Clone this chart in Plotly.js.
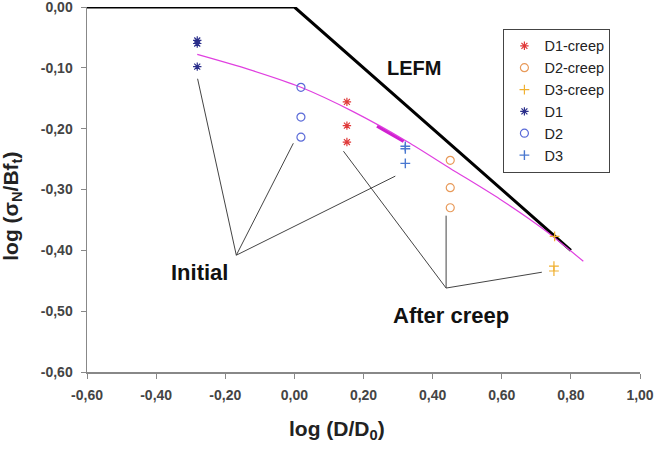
<!DOCTYPE html>
<html>
<head>
<meta charset="utf-8">
<script src="https://cdn.plot.ly/plotly-3.0.1.min.js"></script>
<style>html,body{margin:0;padding:0;background:#fff;}#chart{width:669px;height:449px;}</style>
</head>
<body>
<div id="chart"></div>
<script>
// ---- data ----
const d1creepX = [0.152, 0.152, 0.152];
const d1creepY = [-0.156, -0.195, -0.222];
const d2creepX = [0.451, 0.451, 0.451];
const d2creepY = [-0.252, -0.297, -0.330];
const d3creepX = [0.753, 0.751, 0.751];
const d3creepY = [-0.377, -0.426, -0.434];
const d1X = [-0.281, -0.281, -0.281];
const d1Y = [-0.055, -0.060, -0.098];
const d2X = [0.019, 0.019, 0.019];
const d2Y = [-0.132, -0.181, -0.214];
const d3X = [0.321, 0.321, 0.321];
const d3Y = [-0.229, -0.233, -0.257];
const lefmX = [-0.6, 0.0, 0.8];
const lefmY = [0.0, 0.0, -0.4];
const fitX = [-0.281, -0.13, 0.019, 0.17, 0.326, 0.45, 0.595, 0.72, 0.836];
const fitY = [-0.078, -0.103, -0.132, -0.172, -0.221, -0.265, -0.316, -0.365, -0.418];
const fitBoldX = [0.239, 0.316];
const fitBoldY = [-0.196, -0.221];
// callout leader lines: [hubX, hubY, endX, endY]
const initialLines = [[-0.168, -0.408, -0.280, -0.118], [-0.168, -0.408, -0.003, -0.224], [-0.168, -0.408, 0.292, -0.278]];
const afterLines = [[0.439, -0.462, 0.142, -0.237], [0.439, -0.462, 0.439, -0.343], [0.439, -0.462, 0.716, -0.436]];
const xTicks = [-0.6, -0.4, -0.2, 0, 0.2, 0.4, 0.6, 0.8, 1.0];
const yTicks = [0, -0.1, -0.2, -0.3, -0.4, -0.5, -0.6];
const fmt = v => (v < 0 ? '-' : '') + Math.abs(v).toFixed(2).replace('.', ',');

const FONT = 'Liberation Sans, Arial, sans-serif';

const traces = [
  {x: lefmX, y: lefmY, mode: 'lines', line: {color: '#000', width: 3}, showlegend: false, hoverinfo: 'skip'},
  {x: fitX, y: fitY, mode: 'lines', line: {color: '#e040e0', width: 1.2, shape: 'spline', smoothing: 0.8}, showlegend: false, hoverinfo: 'skip'},
  {x: fitBoldX, y: fitBoldY, mode: 'lines', line: {color: '#d020d0', width: 3}, showlegend: false, hoverinfo: 'skip'},
  {name: 'D1-creep', x: d1creepX, y: d1creepY, mode: 'markers', marker: {symbol: 'asterisk-open', size: 7, color: '#e03a3a', line: {color: '#e03a3a', width: 1.2}}},
  {name: 'D2-creep', x: d2creepX, y: d2creepY, mode: 'markers', marker: {symbol: 'circle-open', size: 8, color: '#e89a5a', line: {color: '#e89a5a', width: 1.2}}},
  {name: 'D3-creep', x: d3creepX, y: d3creepY, mode: 'markers', marker: {symbol: 'cross-thin-open', size: 7, color: '#f0b030', line: {color: '#f0b030', width: 1.2}}},
  {name: 'D1', x: d1X, y: d1Y, mode: 'markers', marker: {symbol: 'asterisk-open', size: 7, color: '#2a2e8a', line: {color: '#2a2e8a', width: 1.2}}},
  {name: 'D2', x: d2X, y: d2Y, mode: 'markers', marker: {symbol: 'circle-open', size: 8, color: '#5a6ad8', line: {color: '#5a6ad8', width: 1.2}}},
  {name: 'D3', x: d3X, y: d3Y, mode: 'markers', marker: {symbol: 'cross-thin-open', size: 7, color: '#4a78d0', line: {color: '#4a78d0', width: 1.4}}}
];

const shapes = initialLines.concat(afterLines).map(s => ({
  type: 'line', xref: 'x', yref: 'y', x0: s[0], y0: s[1], x1: s[2], y1: s[3],
  line: {color: '#444', width: 1}
}));

const axisCommon = {
  showgrid: false, zeroline: false, showline: true, linecolor: '#888', linewidth: 1.5,
  ticks: 'outside', ticklen: 5, tickcolor: '#888', ticklabeloverflow: 'allow', ticklabelstandoff: 5,
  tickfont: {family: FONT, size: 14, color: '#444', weight: 'bold'}
};

const layout = {
  width: 669, height: 449,
  margin: {l: 87, r: 29, t: 7, b: 77},
  paper_bgcolor: '#fff', plot_bgcolor: '#fff',
  font: {family: FONT, color: '#333'},
  showlegend: true,
  legend: {x: 0.753, y: 0.94, xanchor: 'left', yanchor: 'top', bordercolor: '#444', borderwidth: 1,
           bgcolor: '#fff', font: {family: FONT, size: 14.5, color: '#222'}, tracegroupgap: 0, itemwidth: 30},
  xaxis: Object.assign({range: [-0.6, 1.0], tickvals: xTicks, ticktext: xTicks.map(fmt)}, axisCommon),
  yaxis: Object.assign({range: [-0.6, 0.0], tickvals: yTicks, ticktext: yTicks.map(fmt)}, axisCommon),
  shapes: shapes,
  annotations: [
    {x: -0.136, y: 0.455, xref: 'paper', yref: 'paper', xanchor: 'center', yanchor: 'middle',
     text: 'log (σ<sub>N</sub>/Bf<sub>t</sub>)', textangle: -90, showarrow: false,
     font: {family: FONT, size: 21, color: '#222', weight: 'bold'}},
    {x: 0.452, y: -0.16, xref: 'paper', yref: 'paper', xanchor: 'center', yanchor: 'middle',
     text: 'log (D/D<sub>0</sub>)', showarrow: false,
     font: {family: FONT, size: 21, color: '#222', weight: 'bold'}},
    {x: 0.347, y: -0.101, xref: 'x', yref: 'y', text: 'LEFM', showarrow: false, font: {family: FONT, size: 20, color: '#111', weight: 'bold'}},
    {x: -0.275, y: -0.436, xref: 'x', yref: 'y', text: 'Initial', showarrow: false, font: {family: FONT, size: 22, color: '#111', weight: 'bold'}},
    {x: 0.454, y: -0.507, xref: 'x', yref: 'y', text: 'After creep', showarrow: false, font: {family: FONT, size: 22, color: '#111', weight: 'bold'}}
  ]
};

Plotly.newPlot('chart', traces, layout, {displayModeBar: false, staticPlot: true});
</script>
</body>
</html>
